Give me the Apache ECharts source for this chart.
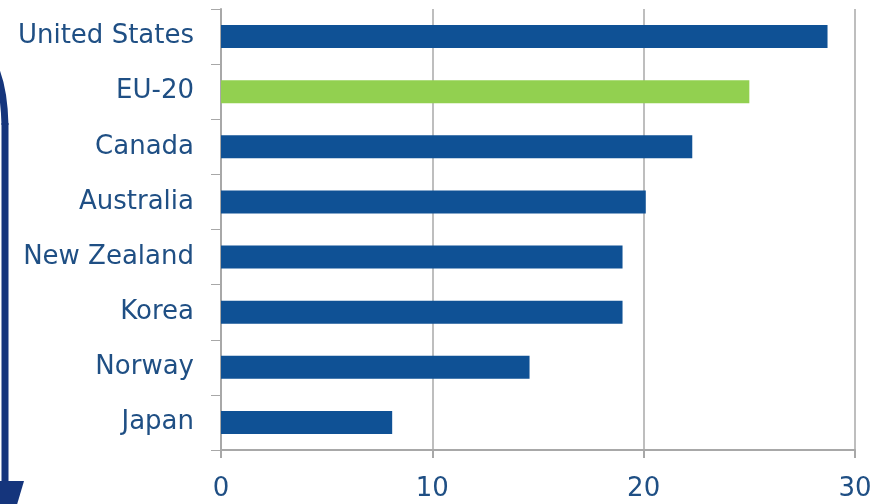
<!DOCTYPE html>
<html>
<head>
<meta charset="utf-8">
<script src="https://cdn.jsdelivr.net/npm/echarts@6/dist/echarts.min.js"></script>
<style>
  html, body { margin: 0; padding: 0; background: #ffffff; }
  #chart { width: 885px; height: 504px; }
</style>
</head>
<body>
<div id="chart"></div>
<script>
// Countries listed top to bottom
const categories = ['United States', 'EU-20', 'Canada', 'Australia', 'New Zealand', 'Korea', 'Norway', 'Japan'];
const values = [28.7, 25.0, 22.3, 20.1, 19.0, 19.0, 14.6, 8.1];
const xTicks = [0, 10, 20, 30];
const highlighted = 'EU-20';

const BLUE = '#0f5195';
const GREEN = '#92d050';
const TEXT = '#1f4f84';
const GRID = '#a8a8a8';
const ARROW = '#15357c';

const chart = echarts.init(document.getElementById('chart'), null, { renderer: 'canvas' });

chart.setOption({
  animation: false,
  backgroundColor: '#ffffff',
  grid: { left: 221, right: 30, top: 9, bottom: 54, containLabel: false },
  xAxis: {
    type: 'value',
    min: xTicks[0],
    max: xTicks[xTicks.length - 1],
    interval: 10,
    axisLine: { show: true, lineStyle: { color: GRID, width: 2 } },
    axisTick: { show: true, length: 8, lineStyle: { color: GRID, width: 2 } },
    axisLabel: {
      margin: 26,
      color: TEXT,
      fontFamily: 'DejaVu Sans',
      fontSize: 26
    },
    splitLine: { show: true, lineStyle: { color: GRID, width: 1.5 } }
  },
  yAxis: {
    type: 'category',
    data: categories,
    inverse: true,
    axisLine: { show: true, lineStyle: { color: GRID, width: 2 } },
    axisTick: { show: true, length: 10, lineStyle: { color: GRID, width: 1 } },
    axisLabel: {
      margin: 27,
      color: TEXT,
      fontFamily: 'DejaVu Sans',
      fontSize: 26
    },
    splitLine: { show: false }
  },
  series: [{
    type: 'bar',
    data: values,
    barWidth: 23,
    itemStyle: {
      color: function (p) { return p.name === highlighted ? GREEN : BLUE; }
    }
  }],
  graphic: [
    // downward arrow on the left edge: rounded top, long shaft, triangular head
    {
      type: 'bezierCurve',
      shape: { x1: -10, y1: 58, cpx1: 4, cpy1: 80, x2: 5, y2: 125 },
      style: { stroke: ARROW, lineWidth: 7, fill: null }
    },
    {
      type: 'line',
      shape: { x1: 5, y1: 123, x2: 5, y2: 486 },
      style: { stroke: ARROW, lineWidth: 7 }
    },
    {
      type: 'polygon',
      shape: { points: [[-14, 481], [24, 481], [5, 545]] },
      style: { fill: ARROW }
    }
  ]
});
</script>
</body>
</html>
